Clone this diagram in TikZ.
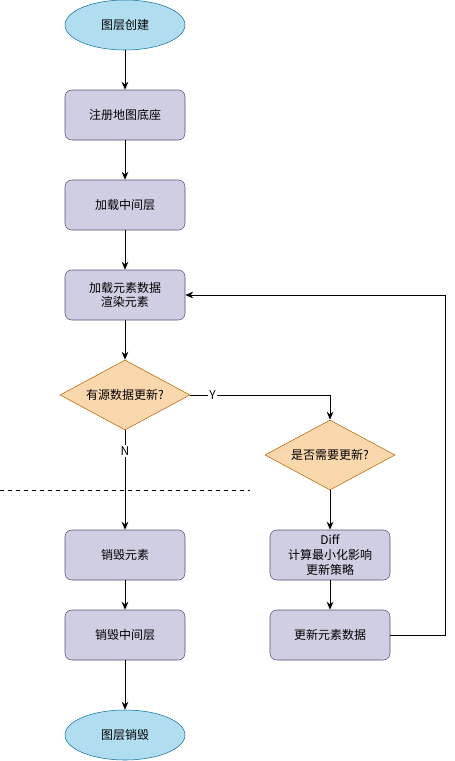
\documentclass[tikz,border=0pt]{standalone}
\usepackage{fontspec}
\usetikzlibrary{shapes.geometric,arrows.meta}
\newfontfamily\cjk{Noto Sans CJK SC}
\definecolor{termfill}{HTML}{B1DDF0}
\definecolor{termline}{HTML}{10739E}
\definecolor{procfill}{HTML}{D0CEE2}
\definecolor{procline}{HTML}{56517E}
\definecolor{askfill}{HTML}{FAD7AC}
\definecolor{askline}{HTML}{B46504}

\begin{document}
\begin{tikzpicture}[x=0.75pt,y=-0.75pt,font=\cjk\fontsize{9}{11}\selectfont,
  term/.style={ellipse,draw=termline,fill=termfill,minimum width=90pt,minimum height=37.5pt,inner sep=0pt},
  proc/.style={rectangle,rounded corners=5pt,draw=procline,fill=procfill,minimum width=90pt,minimum height=37.5pt,align=center,inner sep=0pt},
  ask/.style={diamond,draw=askline,fill=askfill,minimum width=97.5pt,minimum height=52.5pt,aspect=1.857,inner sep=0pt},
  link/.style={draw,line width=0.75pt,-{Stealth[length=6pt,width=5pt]}}]
\useasboundingbox (0,0) rectangle (454,761);

\node[term] (start) at (125,25) {图层创建};
\node[proc] (base) at (125,115) {注册地图底座};
\node[proc] (mid) at (125,205) {加载中间层};
\node[proc] (render) at (125,295) {加载元素数据\\渲染元素};
\node[ask] (src) at (125,395) {有源数据更新?};
\node[ask] (need) at (330,455) {是否需要更新?};
\node[proc] (diff) at (330,555) {Diff\\计算最小化影响\\更新策略};
\node[proc] (upd) at (330,635) {更新元素数据};
\node[proc] (kill) at (125,555) {销毁元素};
\node[proc] (killmid) at (125,635) {销毁中间层};
\node[term] (stop) at (125,735) {图层销毁};

\coordinate (back) at (445,635);

\draw[dashed] (0,490) -- (250,490);

\draw[link] (start) -- (base);
\draw[link] (base) -- (mid);
\draw[link] (mid) -- (render);
\draw[link] (render) -- (src);
\draw[link] (src.east) -| node[pos=0.08,fill=white,inner sep=1pt] {Y} (need.north);
\draw[link] (src.south) -- node[pos=0.21,fill=white,inner sep=1pt] {N} (kill.north);
\draw[link] (need) -- (diff);
\draw[link] (diff) -- (upd);
\draw[link] (upd.east) -- (back) |- (render.east);
\draw[link] (kill) -- (killmid);
\draw[link] (killmid) -- (stop);
\end{tikzpicture}
\end{document}
